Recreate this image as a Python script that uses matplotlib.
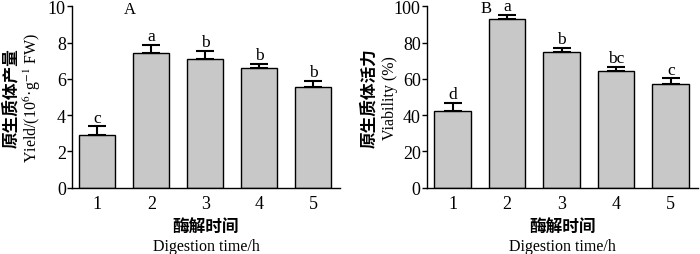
import matplotlib
matplotlib.use("Agg")
import matplotlib.pyplot as plt
import numpy as np

plt.rcParams['font.family'] = ['Liberation Serif', 'DejaVu Serif']
plt.rcParams['mathtext.fontset'] = 'stix'

times = ['1', '2', '3', '4', '5']
yield_vals = [2.92, 7.42, 7.12, 6.58, 5.57]
yield_err = [0.46, 0.46, 0.41, 0.24, 0.31]
yield_sig = ['c', 'a', 'b', 'b', 'b']
viab_vals = [42.1, 93.0, 74.6, 64.3, 57.3]
viab_err = [4.4, 2.2, 2.4, 2.2, 2.9]
viab_sig = ['d', 'a', 'b', 'bc', 'c']

CJK = ['Noto Sans CJK SC', 'DejaVu Sans']
fig = plt.figure(figsize=(7.0, 2.55), dpi=100)

def panel(rect, vals, errs, sig, ymax, step, label, ylab_zh, ylab_en, xzh, xen, lab_xy):
    ax = fig.add_axes(rect)
    x = np.arange(1, len(times) + 1)
    ax.bar(x, vals, width=0.67, color='#c8c8c8', edgecolor='black', linewidth=1.0, zorder=2)
    ax.errorbar(x, vals, yerr=[np.zeros(len(vals)), errs], fmt='none', ecolor='black',
                elinewidth=1.5, capsize=6.5, capthick=1.5, zorder=3)
    for xi, v, e, s in zip(x, vals, errs, sig):
        ax.annotate(s, (xi, v + e), xytext=(0, 3.5), textcoords='offset points',
                    ha='center', va='baseline', fontsize=12.5, annotation_clip=False)
    ax.set_xlim(0.53, 5.5)
    ax.set_ylim(0, ymax)
    ax.set_yticks(np.arange(0, ymax + 0.1, step))
    ax.set_xticks(x)
    ax.set_xticklabels(times)
    ax.tick_params(axis='x', length=0, labelsize=13, pad=5)
    ax.tick_params(axis='y', length=3.5, width=1.0, labelsize=13, pad=1.0, direction='out')
    for sp in ['top', 'right']:
        ax.spines[sp].set_visible(False)
    for sp in ['left', 'bottom']:
        ax.spines[sp].set_linewidth(1.0)
    ax.text(lab_xy[0], lab_xy[1], label, ha='center', va='center', fontsize=12)
    fig.text(xzh, 0.616, ylab_zh, rotation=90, ha='center', va='center', fontsize=12,
             family=CJK, weight='bold')
    fig.text(xen, 0.616, ylab_en, rotation=90, ha='center', va='center', fontsize=11.5)
    cx = rect[0] + rect[2] / 2
    fig.text(cx, (255 - 227) / 255, '酶解时间', ha='center', va='center', fontsize=12,
             family=CJK, weight='bold')
    fig.text(cx, (255 - 247) / 255, 'Digestion time/h', ha='center', va='center', fontsize=11.5)
    return ax

panel([72 / 700, 66.3 / 255, 268 / 700, 181.4 / 255], yield_vals, yield_err, yield_sig,
      10, 2, 'A', '原生质体产量', r'Yield/(10$^{6}$·g$^{-1}$ FW)', 11 / 700, 32 / 700, (1.61, 9.83))
panel([427 / 700, 66.3 / 255, 271 / 700, 181.4 / 255], viab_vals, viab_err, viab_sig,
      100, 20, 'B', '原生质体活力', 'Viability (%)', 369 / 700, 390 / 700, (1.61, 99.0))

fig.savefig('out.png', dpi=100)
